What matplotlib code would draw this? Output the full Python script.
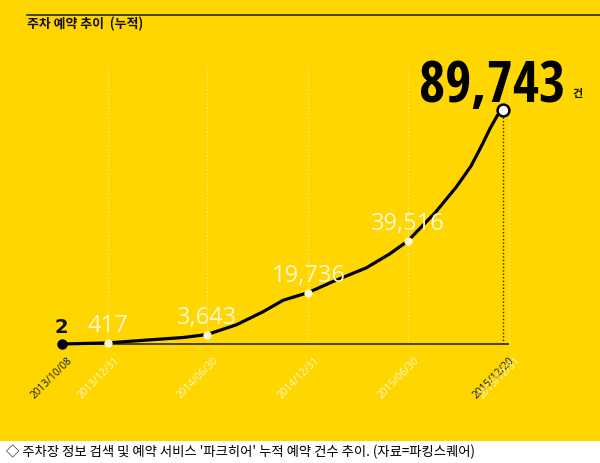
import numpy as np
import matplotlib
matplotlib.use("Agg")
import matplotlib.pyplot as plt
import matplotlib.dates as mdates
from matplotlib import font_manager as fm
from matplotlib.ft2font import FT2Font
from matplotlib.patches import Rectangle
from matplotlib.lines import Line2D

# ---------------- data ----------------
key_dates = ["2013-10-08", "2013-12-31", "2014-06-30", "2014-12-31", "2015-06-30", "2015-12-20"]
key_values = [2, 417, 3643, 19736, 39516, 89743]

curve_dates = ["2014-03-18", "2014-05-17", "2014-08-22", "2014-10-09", "2014-11-15",
               "2015-02-14", "2015-04-16", "2015-05-28", "2015-08-19", "2015-09-26",
               "2015-10-23", "2015-11-12", "2015-11-27", "2015-12-10"]
curve_values = [1600, 2480, 7350, 12300, 16760,
                23970, 29270, 34560, 50450, 60170,
                68270, 76370, 82850, 87700]

tick_dates = ["2013-10-08", "2013-12-31", "2014-06-30", "2014-12-31", "2015-06-30", "2015-12-20", "2015-12-31"]
tick_labels = ["2013/10/08", "2013/12/31", "2014/06/30", "2014/12/31", "2015/06/30", "2015/12/20", "2015/12/31"]
grid_dates = ["2013-12-31", "2014-06-30", "2014-12-31", "2015-06-30", "2015-12-31"]

title = "주차 예약 추이  (누적)"
caption = "◇ 주차장 정보 검색 및 예약 서비스 '파크히어' 누적 예약 건수 추이. (자료=파킹스퀘어)"
unit = "건"

# ---------------- style ----------------
YELLOW = "#FFD600"
CREAM = "#FFF7D2"
GRIDC = "#FFE97A"
CJK = ["Noto Sans CJK KR", "DejaVu Sans"]

W, H = 600, 463
fig = plt.figure(figsize=(W / 100, H / 100), dpi=100, facecolor=YELLOW)
ax = fig.add_axes([0, 0, 1, 1])
ax.set_facecolor("none")
ax.axis("off")
renderer = fig.canvas.get_renderer()

big_text = f"{key_values[-1]:,}"

# choose the narrowest bold text font (with real digit glyphs) for the headline number
def weight_num(w):
    if isinstance(w, (int, float)):
        return w
    return {"bold": 700, "heavy": 800, "black": 900, "semibold": 600,
            "demibold": 600, "extra bold": 800, "ultrabold": 800}.get(str(w).lower(), 400)

ok_families = ("DejaVu", "Liberation", "Noto Sans", "Roboto", "Open Sans", "Lato", "Inter")
best_fp, best_w = fm.FontProperties(family="DejaVu Sans", weight="bold"), None
seen = set()
for f in fm.fontManager.ttflist:
    if weight_num(f.weight) < 600 or "CJK" in f.name or f.fname in seen:
        continue
    if not f.name.startswith(ok_families) or "Mono" in f.name or "Serif" in f.name:
        continue
    seen.add(f.fname)
    try:
        cmap = FT2Font(f.fname).get_charmap()
        if not all(ord(c) in cmap for c in big_text):
            continue
        fp = fm.FontProperties(fname=f.fname)
        t = fig.text(0, 0, big_text, fontproperties=fp, fontsize=40)
        wdt = t.get_window_extent(renderer).width
        t.remove()
    except Exception:
        continue
    if wdt < 40:
        continue
    if best_w is None or wdt < best_w:
        best_w, best_fp = wdt, fp
if best_w is None:
    t = fig.text(0, 0, big_text, fontproperties=best_fp, fontsize=40)
    best_w = t.get_window_extent(renderer).width
    t.remove()
big_size = min(49, 40 * 146 / best_w)

def num(ds):
    return mdates.date2num(np.array(ds, dtype="datetime64[D]"))

kx = num(key_dates)
cx = num(curve_dates)
allx = np.concatenate([kx, cx])
ally = np.concatenate([key_values, curve_values])
order = np.argsort(allx)
allx, ally = allx[order], ally[order]

# layout mapping (pixel positions of axis)
day0 = kx[0]
ppd = (509 - 61.5) / (num(["2015-12-31"])[0] - day0)
ax.set_xlim(day0 - 61.5 / ppd, day0 + (W - 61.5) / ppd)
ppv = (344 - 110) / max(key_values)
base_from_bottom = H - 344
ax.set_ylim(-base_from_bottom / ppv, (H - base_from_bottom) / ppv)

# white caption strip
fig.add_artist(Rectangle((0, 0), 1, 22 / H, transform=fig.transFigure,
                         facecolor="white", edgecolor="none", zorder=-1))
# top rule
fig.add_artist(Line2D([27 / W, 1], [1 - 15 / H, 1 - 15 / H], color="#2f2a10", lw=1.2))

# vertical dotted guide lines
gx = num(grid_dates)
for x in gx:
    ax.axvline(x, ymin=base_from_bottom / H, ymax=(H - 68) / H, color=GRIDC,
               lw=1.0, ls=(0, (1, 1.5)), zorder=1)
# black dotted line at last point
ax.vlines(kx[-1], 0, key_values[-1], color="#222", lw=1.0, ls=(0, (1, 1.5)), zorder=1)

# baseline
ax.hlines(0, kx[0], gx[-1], color="#2a2a2a", lw=1.2, zorder=2)

# curve
ax.plot(allx, ally, color="black", lw=2.3, solid_capstyle="round", solid_joinstyle="round", zorder=3)

# markers
ax.plot(kx[0], key_values[0], "o", ms=6.5, color="black", zorder=4)
ax.plot(kx[1:-1], key_values[1:-1], "o", ms=6, color=CREAM, mec="none", zorder=4)
ax.plot(kx[-1], key_values[-1], "o", ms=8.5, mfc="white", mec="black", mew=1.8, zorder=5)

# value labels
ax.annotate(f"{key_values[0]:,}", xy=(kx[0], key_values[0]), xytext=(0, 11),
            textcoords="offset pixels", ha="center", va="baseline",
            fontsize=14, fontweight="bold", color="#111", family="DejaVu Sans")
for x, v in zip(kx[1:-1], key_values[1:-1]):
    ax.annotate(f"{v:,}", xy=(x, v), xytext=(0, 11), textcoords="offset pixels",
                ha="center", va="baseline", fontsize=17, color=CREAM, family="Open Sans")
fig.text(565 / W, 1 - 102 / H, big_text, ha="right", va="baseline",
         fontproperties=best_fp, fontsize=big_size, color="black")
fig.text(578 / W, 1 - 94 / H, unit, ha="center", va="center", fontsize=8,
         fontweight="bold", family=CJK, color="#111")

# date labels
dark = {"2013/10/08", "2015/12/20"}
for x, lab in zip(num(tick_dates), tick_labels):
    ax.annotate(lab, xy=(x, 0), xytext=(6, -11), textcoords="offset pixels",
                rotation=45, rotation_mode="anchor", ha="right", va="top",
                fontsize=7.3, family="Open Sans",
                color="#1a1a1a" if lab in dark else CREAM)

# title and caption
fig.text(27 / W, 1 - 24 / H, title, ha="left", va="center", fontsize=9.3,
         fontweight="bold", family=CJK, color="#111")
fig.text(6 / W, 11 / H, caption, ha="left", va="center", fontsize=9.6,
         family=CJK, color="black")

fig.savefig("out.png", dpi=100, facecolor=YELLOW)
